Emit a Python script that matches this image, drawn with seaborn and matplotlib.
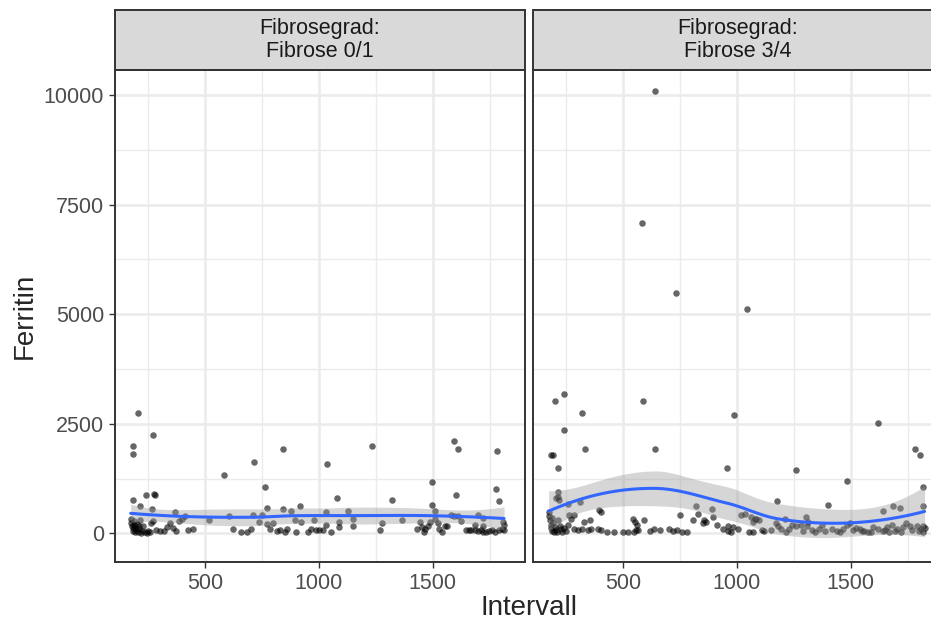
import numpy as np
import pandas as pd
import matplotlib
matplotlib.use('Agg')
import matplotlib.pyplot as plt
import seaborn as sns
from matplotlib.patches import Rectangle
from matplotlib.ticker import MultipleLocator

# Data (Intervall, Ferritin) per facet
fib01_x = [206, 180, 180, 271, 180, 241, 275, 280, 212, 265, 368, 409, 397,
           584, 515, 606, 716, 764, 773, 708, 750, 738, 842, 842, 877, 917, 896, 921, 977,
           1037, 1233, 1078, 1030, 1029, 1087, 1087, 1127, 1149, 1149, 1322, 1275, 1364,
           1496, 1498, 1510, 1595, 1610, 1602, 1700, 1722, 1688, 1722, 1783, 1777, 1790,
           1810, 1814,
           172, 175, 178, 180, 182, 185, 188, 190, 193, 196, 200, 203, 207, 210, 214, 218,
           222, 228, 235, 242, 248, 255, 262, 270, 285, 300, 318, 330, 345, 358, 372, 383,
           426, 446,
           620, 657, 684, 701, 772, 785, 800, 815, 830, 851, 860, 900, 951, 966, 988, 1002,
           1017, 1053, 1267,
           1433, 1445, 1452, 1460, 1468, 1480, 1490, 1510, 1522, 1530, 1540, 1552, 1565,
           1580, 1595, 1610, 1625,
           1648, 1660, 1670, 1685, 1700, 1712, 1722, 1735, 1748, 1760, 1775, 1790, 1805, 1814]
fib01_y = [2740, 1990, 1810, 2240, 770, 880, 910, 880, 620, 560, 480, 410, 340,
           1340, 300, 410, 1640, 1050, 590, 420, 420, 270, 1920, 550, 510, 620, 300, 270, 300,
           1590, 1990, 810, 480, 190, 270, 150, 520, 340, 160, 770, 240, 300,
           1170, 660, 510, 2100, 1920, 870, 430, 360, 200, 180, 1880, 1020, 730,
           270, 190,
           320, 250, 180, 120, 60, 280, 200, 30, 140, 90, 220, 40, 160, 100, 300, 20,
           60, 180, 30, 20, 60, 30, 250, 280, 90, 50, 60, 150, 230, 120, 60, 280,
           75, 110,
           100, 40, 40, 100, 220, 100, 250, 60, 80, 40, 110, 40, 40, 110, 75, 75,
           75, 40, 75,
           100, 260, 150, 40, 110, 180, 260, 340, 250, 110, 40, 180, 180,
           420, 400, 390, 290,
           80, 80, 80, 80, 60, 80, 40, 40, 60, 80, 40, 80, 110, 90]

fib34_x = [640, 584, 730, 1045, 199, 241, 318, 241, 333, 585, 640, 989, 954, 181, 190,
           215, 1618, 1782, 1804, 1261, 1484, 1818,
           211, 215, 204, 218, 311, 259, 394, 402, 262, 284, 269, 751, 820, 827, 805, 849,
           857, 891, 893, 864, 541, 553, 592, 559, 355, 328, 913, 937, 959, 974, 981,
           1177, 1400, 1644, 1685, 1716, 1818, 1302, 1209, 1312, 1018, 1035, 1060, 1080,
           1095, 1070, 1085,
           1004, 1055, 1070, 1172, 1180, 1195, 1240, 1260, 1280, 1310, 1375, 1385, 1420,
           1465, 1485, 1495, 1525, 1540, 1560, 1575, 1600, 1620, 1640, 1660, 1680, 1705,
           1730, 1745, 1760, 1790, 1818, 1818,
           172, 175, 178, 180, 182, 185, 188, 190, 195, 200, 205, 210, 215, 220, 225, 230,
           240, 250, 258,
           282, 300, 318, 345, 360, 390, 400, 430, 460, 500, 520, 545, 556, 565, 618, 635,
           660, 700, 720, 738, 760, 782,
           1120, 1150, 1215, 1230, 1290, 1330, 1345, 1360, 1440, 1455, 1510, 1550, 1590,
           1650, 1670, 1695, 1720, 1770, 1800, 1810, 1825, 960, 1110]
fib34_y = [10080, 7070, 5480, 5120, 3030, 3180, 2750, 2350, 1920, 3030, 1920, 2710, 1490,
           1780, 1780, 1490, 2520, 1920, 1800, 1455, 1200, 1060,
           950, 830, 800, 760, 720, 680, 530, 480, 420, 420, 340, 420, 630, 455, 300, 230,
           300, 550, 380, 270, 340, 270, 300, 190, 300, 270, 190, 100, 180, 40, 150,
           730, 660, 520, 630, 590, 630, 380, 340, 270, 420, 450, 380, 340,
           300, 260, 320,
           110, 40, 40, 230, 180, 110, 200, 170, 200, 170, 200, 60, 100,
           100, 200, 230, 130, 100, 60, 40, 150, 100, 60, 150, 200, 100,
           150, 250, 180, 160, 180, 40,
           500, 400, 300, 200, 120, 60, 350, 250, 30, 150, 80, 40, 300, 180, 100, 40,
           120, 60, 200,
           110, 75, 100, 75, 110, 100, 75, 40, 40, 40, 40, 40, 75, 75, 60, 100,
           80, 100, 60, 80, 40, 40,
           60, 80, 40, 100, 60, 80, 40, 110, 60, 40, 80, 60, 40,
           80, 40, 60, 40, 80, 60, 100, 120, 60, 80]

facet_labels = ['Fibrose 0/1', 'Fibrose 3/4']
x_ticks = [500, 1000, 1500]
y_ticks = [0, 2500, 5000, 7500, 10000]

df = pd.concat([
    pd.DataFrame({'Intervall': fib01_x, 'Ferritin': fib01_y, 'Fibrosegrad': facet_labels[0]}),
    pd.DataFrame({'Intervall': fib34_x, 'Ferritin': fib34_y, 'Fibrosegrad': facet_labels[1]}),
])


def loess_fit(x, y, xs, span=0.75):
    # R-style loess: local quadratic fits at kd-tree vertices, cubic Hermite in between
    x = np.asarray(x, float)
    y = np.asarray(y, float)
    n = len(x)
    q = int(np.floor(n * span))

    def rows(x0):
        d = np.abs(x - x0)
        h = np.sort(d)[q - 1]
        w = np.clip(1 - (d / h) ** 3, 0, None) ** 3
        u = (x - x0) / h
        X = np.column_stack([np.ones(n), u, u ** 2])
        B = np.linalg.solve(X.T @ (w[:, None] * X), (X * w[:, None]).T)
        return B[0], B[1] / h

    xsort = np.sort(x)
    fc = int(np.floor(n * span * 0.2))
    mu = 0.005 * (xsort[-1] - xsort[0])
    verts = [xsort[0] - mu, xsort[-1] + mu]

    def split(lo, hi):
        if hi - lo + 1 <= fc:
            return
        m = (lo + hi) // 2
        verts.append((xsort[m] + xsort[m + 1]) / 2)
        split(lo, m)
        split(m + 1, hi)

    split(0, n - 1)
    verts = np.array(sorted(verts))
    vrows = [rows(v) for v in verts]

    def interp(t):
        i = min(np.searchsorted(verts, t, side='right') - 1, len(verts) - 2)
        a, b = verts[i], verts[i + 1]
        dd = b - a
        s = (t - a) / dd
        h00 = 2 * s ** 3 - 3 * s ** 2 + 1
        h10 = s ** 3 - 2 * s ** 2 + s
        h01 = -2 * s ** 3 + 3 * s ** 2
        h11 = s ** 3 - s ** 2
        return (h00 * vrows[i][0] + h10 * dd * vrows[i][1]
                + h01 * vrows[i + 1][0] + h11 * dd * vrows[i + 1][1])

    L = np.array([interp(v) for v in x])
    resid = y - L @ y
    delta1 = n - 2 * np.trace(L) + np.sum(L ** 2)
    sigma = np.sqrt(np.sum(resid ** 2) / delta1)
    Ls = np.array([interp(v) for v in xs])
    fit = Ls @ y
    se = sigma * np.sqrt(np.sum(Ls ** 2, axis=1))
    return fit, se


sns.set_style('white')
plt.rcParams['font.family'] = ['Liberation Sans', 'DejaVu Sans']

g = sns.FacetGrid(df, col='Fibrosegrad', col_order=facet_labels, sharex=True, sharey=True,
                  height=6.24, aspect=0.75, despine=False)
g.map_dataframe(sns.scatterplot, x='Intervall', y='Ferritin', color='black', alpha=0.6,
                s=22, linewidth=0, zorder=3)

fig = g.figure
fig.set_size_inches(9.31, 6.24)

panel_w = 410 / 931
panel_h = 492.3 / 624
bottom = (624 - 562.3) / 624
lefts = [115 / 931, 533 / 931]
strip_h = 60 / 492.3

for ax, label, left in zip(g.axes.flat, facet_labels, lefts):
    sub = df[df['Fibrosegrad'] == label]
    xs = np.linspace(sub['Intervall'].min(), sub['Intervall'].max(), 80)
    fit, se = loess_fit(sub['Intervall'], sub['Ferritin'], xs)
    ax.fill_between(xs, fit - 1.97 * se, fit + 1.97 * se, color='#999999', alpha=0.4,
                    linewidth=0, zorder=4)
    ax.plot(xs, fit, color='#3366FF', linewidth=2.2, zorder=5)

    ax.set_position([left, bottom, panel_w, panel_h])
    ax.set_xlim(103, 1906)
    ax.set_ylim(-657, 10570)
    ax.set_xticks(x_ticks)
    ax.set_yticks(y_ticks)
    ax.xaxis.set_minor_locator(MultipleLocator(250))
    ax.yaxis.set_minor_locator(MultipleLocator(1250))
    ax.grid(True, which='major', color='#EBEBEB', linewidth=1.8, zorder=0)
    ax.grid(True, which='minor', color='#EBEBEB', linewidth=1.0, zorder=0)
    ax.set_axisbelow(True)
    ax.tick_params(which='major', direction='out', length=4.3, width=1.0, color='#333333',
                   labelsize=15.5, labelcolor='#4D4D4D', pad=3.5)
    ax.tick_params(which='minor', length=0)
    ax.tick_params(axis='y', labelleft=(left == lefts[0]), left=(left == lefts[0]))
    ax.tick_params(axis='x', bottom=True)
    for sp in ax.spines.values():
        sp.set_color('#333333')
        sp.set_linewidth(1.4)
        sp.set_zorder(6)
    ax.set_xlabel('')
    ax.set_ylabel('')
    ax.set_title('')

    ax.add_patch(Rectangle((0, 1), 1, strip_h, transform=ax.transAxes, clip_on=False,
                           facecolor='#D9D9D9', edgecolor='#333333', linewidth=1.4))
    ax.text(0.5, 1 + strip_h / 2, 'Fibrosegrad:\n' + label, transform=ax.transAxes,
            ha='center', va='center', fontsize=15.5, color='#1A1A1A', linespacing=1.1)

fig.text(529 / 931, 1 - 608 / 624, 'Intervall', ha='center', va='center', fontsize=20)
fig.text(25 / 931, 1 - 316 / 624, 'Ferritin', ha='center', va='center', rotation=90,
         fontsize=20)

fig.savefig('out.png', dpi=100)
plt.close()
